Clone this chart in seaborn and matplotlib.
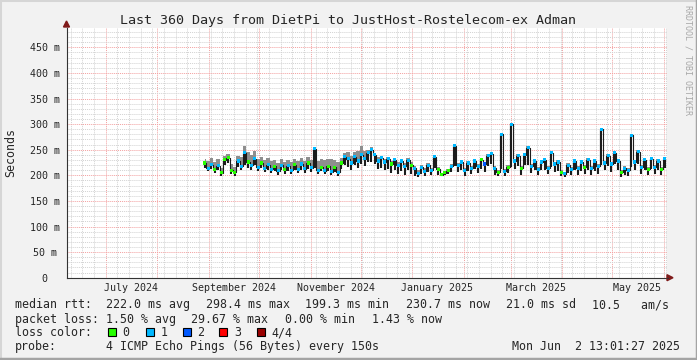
import pandas as pd
import matplotlib
matplotlib.use('Agg')
import matplotlib.pyplot as plt
import matplotlib.dates as mdates
from matplotlib.ticker import MultipleLocator, NullFormatter
from matplotlib.patches import Rectangle, Polygon
from matplotlib.lines import Line2D
import seaborn as sns

# median rtt (ms), one sample every 2 days from 29 Aug 2024
first_day = '2024-08-29 12:00'
med = [224, 214, 221, 212, 219, 205, 230, 234, 210, 206,
       228, 218, 244, 226, 220, 232, 216, 224, 214, 221,
       212, 218, 209, 220, 211, 219, 210, 221, 212, 222,
       213, 224, 215,
       252, 210, 216, 209, 218, 207, 216, 206, 224, 236,
       232, 224, 236, 228, 240, 232, 244, 250, 240, 228,
       234, 226, 232, 222, 230, 220, 228, 218, 229, 220,
       214, 204, 216, 208,
       220, 210, 236, 212, 201, 205, 209, 218, 258, 220,
       226, 210, 224, 214, 228, 218, 230, 222, 238, 242,
       214, 206, 280, 208, 216, 300, 228, 238, 214, 240,
       254, 218, 228, 212, 226,
       230, 214, 244, 222, 226, 206, 203, 220, 212, 228,
       214, 226, 216, 230, 214, 228, 218, 290, 224, 238,
       222, 244, 228, 206, 214, 210, 278, 226, 246, 216,
       230, 212, 232, 216, 228, 212, 232]
# top of the grey smoke
smoke_hi = [232, 228, 234, 226, 232, 214, 238, 242, 222, 216,
            238, 236, 258, 246, 240, 248, 232, 236, 230, 234,
            228, 230, 225, 232, 226, 230, 226, 232, 228, 234,
            228, 236, 230,
            254, 228, 232, 230, 232, 232, 230, 226, 234, 244,
            245, 238, 246, 248, 258, 248, 250, 256, 244, 236,
            238, 232, 236, 228, 234, 226, 232, 224, 233, 226,
            218, 210, 220, 214,
            224, 214, 240, 216, 204, 208, 212, 222, 262, 224,
            230, 214, 228, 218, 232, 222, 234, 226, 242, 246,
            218, 210, 282, 212, 220, 302, 232, 242, 218, 244,
            257, 222, 232, 216, 230,
            234, 218, 248, 226, 230, 210, 206, 224, 216, 232,
            218, 230, 220, 234, 218, 232, 222, 292, 228, 242,
            226, 248, 232, 210, 218, 214, 280, 230, 250, 220,
            234, 216, 236, 220, 232, 216, 236]
# bottom of the dark smoke
smoke_lo = [214, 208, 213, 205, 210, 198, 220, 224, 203, 199,
            216, 210, 220, 214, 210, 220, 208, 214, 206, 210,
            204, 208, 201, 210, 203, 208, 202, 210, 204, 211,
            205, 212, 206,
            214, 203, 208, 202, 208, 200, 206, 198, 212, 220,
            216, 210, 220, 214, 222, 218, 226, 226, 222, 212,
            214, 210, 212, 204, 210, 202, 208, 200, 210, 202,
            198, 196, 202, 198,
            206, 200, 214, 200, 198, 200, 202, 206, 218, 206,
            210, 198, 208, 202, 212, 204, 212, 206, 218, 222,
            200, 198, 212, 198, 204, 216, 212, 218, 200, 220,
            220, 204, 210, 200, 210,
            210, 202, 216, 206, 208, 198, 196, 204, 200, 210,
            200, 208, 202, 210, 200, 208, 202, 220, 210, 218,
            206, 222, 210, 196, 200, 198, 216, 210, 222, 202,
            210, 200, 212, 202, 210, 200, 214]
# lost pings out of 4
loss = [0, 1, 1, 0, 1, 0, 0, 0, 0, 0,
        1, 1, 1, 0, 1, 1, 1, 0, 1, 1,
        1, 0, 1, 1, 0, 1, 1, 0, 1, 1,
        1, 0, 1,
        1, 1, 0, 1, 0, 1, 0, 1, 0, 1,
        1, 1, 1, 1, 1, 1, 1, 1, 1, 1,
        1, 1, 1, 0, 1, 1, 1, 1, 1, 0,
        1, 1, 1, 1,
        1, 1, 1, 0, 0, 0, 0, 1, 1, 1,
        1, 1, 1, 1, 1, 1, 0, 2, 1, 1,
        1, 0, 1, 1, 0, 1, 1, 1, 0, 1,
        1, 1, 1, 1, 1,
        1, 1, 1, 1, 1, 0, 1, 1, 1, 1,
        1, 1, 0, 1, 1, 1, 1, 1, 1, 1,
        1, 1, 1, 0, 1, 1, 1, 1, 1, 1,
        1, 0, 1, 1, 1, 0, 1]

loss_labels = ['0', '1', '2', '3', '4/4']
loss_colors = ['#26ff00', '#00b8ff', '#0059ff', '#ff0000', '#990000']

y_ticks = [0, 50, 100, 150, 200, 250, 300, 350, 400, 450]
y_ticklabels = ['0', '50 m', '100 m', '150 m', '200 m', '250 m',
                '300 m', '350 m', '400 m', '450 m']
month_labels = ['July 2024', 'September 2024', 'November 2024',
                'January 2025', 'March 2025', 'May 2025']
month_label_at = ['2024-07-16', '2024-09-16', '2024-11-16',
                  '2025-01-16', '2025-03-16', '2025-05-16']

t_start = pd.Timestamp('2024-06-07 13:01:27')
t_end = pd.Timestamp('2025-06-02 13:01:27')

title = 'Last 360 Days from DietPi to JustHost-Rostelecom-ex Adman'
row_rtt = [(16, 'median rtt:'), (107, '222.0 ms avg'), (207, '298.4 ms max'),
           (306, '199.3 ms min'), (407, '230.7 ms now'), (507, '21.0 ms sd'),
           (593, '10.5   am/s')]
row_loss = [(16, 'packet loss:'), (107, '1.50 % avg'), (192, '29.67 % max'),
            (286, '0.00 % min'), (372.5, '1.43 % now')]
row_probe = [(16, 'probe:'), (107, '4 ICMP Echo Pings (56 Bytes) every 150s'),
             (513, 'Mon Jun  2 13:01:27 2025')]
box_x = [108.3, 145.7, 182.7, 219.3, 256.7]
box_label_x = [123.3, 161, 198.3, 235, 271.7]

df = pd.DataFrame({'t': pd.date_range(first_day, periods=len(med), freq='2D'),
                   'med': med, 'hi': smoke_hi, 'lo': smoke_lo, 'loss': loss})

sns.set_style('white')
plt.rcParams['font.family'] = ['DejaVu Sans Mono']

W, H = 697, 360
fig = plt.figure(figsize=(W / 100, H / 100), dpi=100, facecolor='#f2f2f2')
ax = fig.add_axes([66.5 / W, 1 - 277.7 / H, 600 / W, 250 / H])
ax.set_facecolor('white')

def fx(x):
    return x / W

def fy(y):
    return 1 - y / H

# smoke + median
ax.fill_between(df['t'], df['med'], df['hi'], step='mid', color='#8e8e8e', lw=0, zorder=2)
ax.vlines(df['t'], df['lo'], df['med'], color='#1c1c1c', lw=1.5, zorder=3)
sns.lineplot(data=df, x='t', y='med', drawstyle='steps-mid', color='#1c1c1c',
             lw=0.8, ax=ax, zorder=3)
sns.scatterplot(data=df, x='t', y='med', hue='loss',
                palette={i: c for i, c in enumerate(loss_colors)},
                marker='s', s=5, linewidth=0, legend=False, ax=ax, zorder=4)

ax.set_xlim(t_start, t_end)
ax.set_ylim(0, 488.3)
ax.set_xlabel('')
ax.set_ylabel('')

ax.yaxis.set_major_locator(MultipleLocator(50))
ax.yaxis.set_minor_locator(MultipleLocator(10))
ax.xaxis.set_major_locator(mdates.MonthLocator())
ax.xaxis.set_minor_locator(mdates.WeekdayLocator(byweekday=mdates.MO))
ax.xaxis.set_major_formatter(NullFormatter())
ax.grid(which='minor', color='#d2d2d2', ls=(0, (1, 1)), lw=0.7)
ax.grid(which='major', color='#f3a0a0', ls=(0, (1, 1)), lw=0.7)
ax.set_axisbelow(True)

ax.set_yticks(y_ticks)
ax.set_yticklabels(y_ticklabels, fontsize=7.2)
for lab in ax.get_yticklabels():
    lab.set_ha('center')
ax.tick_params(axis='both', which='major', direction='out', length=2.2,
               width=0.7, color='#333333')
ax.tick_params(axis='y', which='major', pad=13.5)
ax.tick_params(axis='x', which='minor', direction='out', length=1.4,
               width=0.7, color='#333333')
ax.tick_params(axis='y', which='minor', length=0)

for s in ['top', 'right']:
    ax.spines[s].set_visible(False)
for s in ['left', 'bottom']:
    ax.spines[s].set_color('#333333')
    ax.spines[s].set_linewidth(0.8)

for d, s in zip(month_label_at, month_labels):
    ax.text(pd.Timestamp(d), -13.3 / 250, s, transform=ax.get_xaxis_transform(),
            ha='center', va='baseline', fontsize=7.2)

# axis arrows
fig.add_artist(Line2D([fx(666.5), fx(668)], [fy(277.7), fy(277.7)], color='#333333', lw=0.8))
fig.add_artist(Polygon([[fx(667), fy(274.7)], [fx(673), fy(277.7)], [fx(667), fy(280.7)]],
                       closed=True, color='#7f1a1a', transform=fig.transFigure))
fig.add_artist(Polygon([[fx(63.5), fy(27)], [fx(66.5), fy(21)], [fx(69.5), fy(27)]],
                       closed=True, color='#7f1a1a', transform=fig.transFigure))

fig.text(0.5, fy(24), title, ha='center', va='baseline', fontsize=9.6)
fig.text(fx(11), fy(152.7), 'Seconds', rotation=90, ha='center', va='center', fontsize=8.4)
fig.text(fx(688), fy(5), 'RRDTOOL / TOBI OETIKER', rotation=270, ha='center', va='top',
         fontsize=6, color='#a8a8a8')

for x, s in row_rtt:
    fig.text(fx(x - 0.7), fy(308.3), s, va='baseline', fontsize=8.4)
for x, s in row_loss:
    fig.text(fx(x - 0.7), fy(322.7), s, va='baseline', fontsize=8.4)
fig.text(fx(15.3), fy(336), 'loss color:', va='baseline', fontsize=8.4)
for bx, lx, c, s in zip(box_x, box_label_x, loss_colors, loss_labels):
    fig.add_artist(Rectangle((fx(bx), fy(335.7)), 8 / W, 8 / H, facecolor=c,
                             edgecolor='black', lw=0.8, transform=fig.transFigure))
    fig.text(fx(lx - 0.7), fy(336), s, va='baseline', fontsize=8.4)
for x, s in row_probe:
    fig.text(fx(x - 0.7), fy(350.3), s, va='baseline', fontsize=8.4)

# frame around the image
fig.add_artist(Line2D([0, 0, 1], [0, 1, 1], color='#d6d6d6', lw=2.2, transform=fig.transFigure))
fig.add_artist(Line2D([0, 1, 1], [0.004, 0.004, 1], color='#a4a4a4', lw=2.5, transform=fig.transFigure))

fig.savefig('out.png', dpi=100, facecolor=fig.get_facecolor())
